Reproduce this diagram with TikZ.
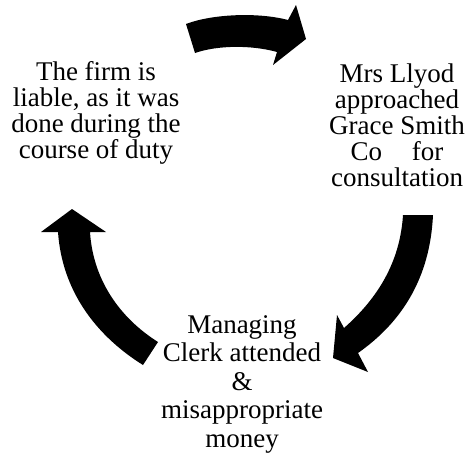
\documentclass[tikz,border=0pt]{standalone}
\usepackage{fontspec}
\setmainfont{Liberation Serif}
\tikzset{
  steptext/.style={align=center, inner sep=0pt, anchor=north, font=\fontsize{27}{26}\selectfont},
  blockarrow/.style={fill=black, draw=none}
}
\begin{document}
\begin{tikzpicture}[x=1pt,y=-1pt]
\useasboundingbox (0,0) rectangle (468,459);

% the three steps
\node[steptext] (liable) at (96,61.5) {The firm is\\liable, as it was\\done during the\\course of duty};
\node[steptext] (lloyd) at (397,63.5) {Mrs Llyod\\approached\\Grace Smith\\Co\hspace*{1.1em}for\\consultation};
\node[steptext, font=\fontsize{27}{28.5}\selectfont] (clerk) at (242,315) {Managing\\Clerk attended\\\&\\misappropriate\\money};

% block arrows round the cycle
\fill[blockarrow] (186,24) .. controls (212,14) and (258,12) .. (288,20)
  -- (296,5) -- (306,39) -- (273,65) -- (277,52)
  .. controls (252,45) and (218,45) .. (195,53) -- cycle;

\fill[blockarrow] (403,215) -- (433,215)
  .. controls (430,278) and (402,322) .. (358,353)
  -- (368,372) -- (333,358) -- (337,315) -- (344,328)
  .. controls (378,298) and (400,262) .. cycle;

\fill[blockarrow] (72,209) -- (106,232) -- (90,232)
  .. controls (93,280) and (120,318) .. (158,342)
  -- (143,365) .. controls (95,335) and (62,290) .. (58,232)
  -- (41,232) -- cycle;

\end{tikzpicture}
\end{document}
